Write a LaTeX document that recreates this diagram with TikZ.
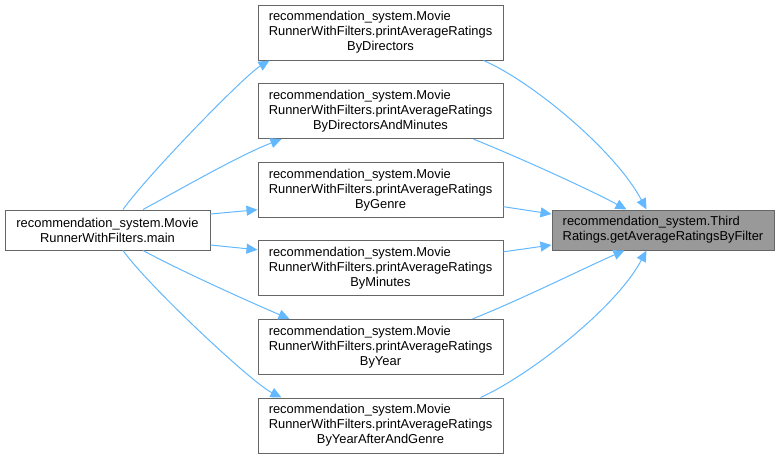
\documentclass[tikz,border=0pt]{standalone}
\usepackage{fontspec}
\usepackage{calc}
\setmainfont{Liberation Sans}
\usetikzlibrary{arrows.meta,positioning}
\definecolor{edgeblue}{HTML}{63B8FF}
\definecolor{boxline}{HTML}{666666}
\definecolor{focusfill}{HTML}{999999}
\tikzset{
  >={Triangle[length=11pt,width=10pt]},
  fn/.style={draw=boxline,fill=white,line width=1pt,inner sep=0pt,
    minimum width=245pt,minimum height=55pt,align=center,
    font=\fontsize{12.9}{15}\selectfont},
  fnmain/.style={fn,minimum width=205pt,minimum height=40pt},
  fnfocus/.style={fn,fill=focusfill,minimum width=222pt,minimum height=40pt,align=left},
  callflow/.style={->,line width=1pt,color=edgeblue},
}
\newcommand{\runnerfn}[1]{\makebox[\widthof{RunnerWithFilters.printAverageRatings}][l]{recommendation\_system.Movie}\\RunnerWithFilters.printAverageRatings\\#1}

\begin{document}
\begin{tikzpicture}[x=1pt,y=-1pt]
  \useasboundingbox (0,0) rectangle (780,459);
  \node[fnmain] (main) at (107.5,230) {recommendation\_system.Movie\\RunnerWithFilters.main};
  \node[fn] (dir) at (380.5,32.5) {\runnerfn{ByDirectors}};
  \node[fn,below=22.6pt of dir] (dirmin) {\runnerfn{ByDirectorsAndMinutes}};
  \node[fn,below=22.6pt of dirmin] (genre) {\runnerfn{ByGenre}};
  \node[fn,below=22.6pt of genre] (minutes) {\runnerfn{ByMinutes}};
  \node[fn,below=22.6pt of minutes] (year) {\runnerfn{ByYear}};
  \node[fn,below=22.6pt of year] (yeargenre) {\runnerfn{ByYearAfterAndGenre}};
  \node[fnfocus] (filter) at (663,230) {recommendation\_system.Third\\Ratings.getAverageRatingsByFilter};
  % callers of the printAverageRatings methods
  \draw[callflow] ([xshift=15.5pt]main.north) .. controls +(25,-35) and +(-25,15) .. ([xshift=12pt]dir.south west);
  \draw[callflow] ([xshift=35.5pt]main.north) .. controls +(37,-20) and +(-42,16) .. ([xshift=24pt]dirmin.south west);
  \draw[callflow] ([yshift=16pt]main.east) -- ([yshift=-20pt]genre.west);
  \draw[callflow] ([yshift=-15pt]main.east) -- ([yshift=18.5pt]minutes.west);
  \draw[callflow] ([xshift=35.5pt]main.south) .. controls +(37,20) and +(-40,-17) .. ([xshift=32pt]year.north west);
  \draw[callflow] ([xshift=15.5pt]main.south) .. controls +(25,35) and +(-30,-15) .. ([xshift=24pt]yeargenre.north west);
  % calls into getAverageRatingsByFilter
  \draw[callflow] ([xshift=-20pt]dir.south east) .. controls +(47,20) and +(-32,-60) .. ([xshift=95pt]filter.north west);
  \draw[callflow] ([xshift=-30pt]dirmin.south east) .. controls +(47,19) and +(-37,-20) .. ([xshift=75pt]filter.north west);
  \draw[callflow] ([yshift=-17pt]genre.east) -- ([yshift=16pt]filter.west);
  \draw[callflow] ([yshift=16.5pt]minutes.east) -- ([yshift=-15pt]filter.west);
  \draw[callflow] ([xshift=-31pt]year.north east) .. controls +(48,-19) and +(-35,15) .. ([xshift=73pt]filter.south west);
  \draw[callflow] ([xshift=-23pt]yeargenre.north east) .. controls +(45,-20) and +(-32,60) .. ([xshift=95pt]filter.south west);
\end{tikzpicture}
\end{document}
